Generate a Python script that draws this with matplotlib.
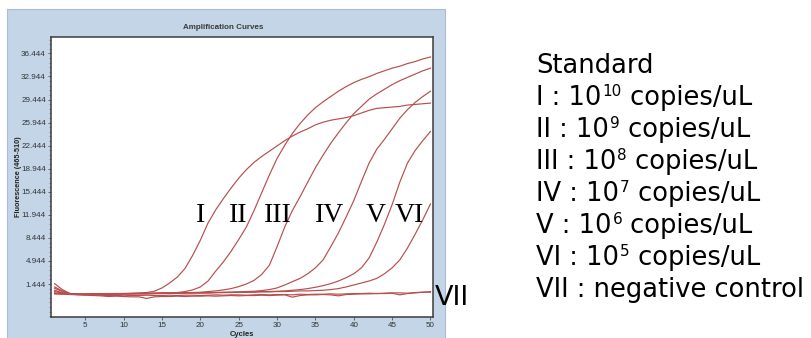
import matplotlib
matplotlib.use("Agg")
import matplotlib.pyplot as plt
from matplotlib.patches import Rectangle
from matplotlib.ticker import MultipleLocator, FixedLocator, AutoMinorLocator

cycles = list(range(1, 51))

std_I = [1.5, 0.6, 0.0, -0.05, -0.1, -0.05, 0.0, -0.05, 0.0, 0.0,
         0.05, 0.1, 0.15, 0.35, 0.85, 1.6, 2.5, 3.8, 5.8, 8.1,
         10.7, 12.7, 14.4, 16.0, 17.5, 18.8, 19.9, 20.8, 21.6, 22.4,
         23.2, 23.9, 24.5, 25.0, 25.6, 26.0, 26.3, 26.5, 26.7, 27.0,
         27.4, 27.8, 28.1, 28.2, 28.3, 28.4, 28.6, 28.7, 28.8, 28.9]
std_II = [0.8, 0.3, 0.0, -0.1, -0.1, -0.05, -0.05, 0.0, 0.0, -0.05,
          0.0, 0.0, 0.05, 0.05, 0.1, 0.1, 0.15, 0.3, 0.55, 1.0,
          1.9, 3.4, 4.8, 6.4, 8.2, 10.1, 12.6, 15.3, 18.0, 20.5,
          22.5, 24.3, 25.8, 27.1, 28.2, 29.1, 29.9, 30.7, 31.4, 32.0,
          32.5, 32.9, 33.4, 33.8, 34.2, 34.5, 34.9, 35.2, 35.6, 35.9]
std_III = [0.3, 0.1, -0.05, -0.1, -0.1, -0.1, -0.05, -0.05, 0.0, 0.0,
           -0.05, 0.0, 0.0, 0.05, 0.05, 0.1, 0.1, 0.1, 0.15, 0.2,
           0.3, 0.4, 0.55, 0.75, 1.05, 1.45, 2.0, 2.9, 4.3, 7.1,
           10.1, 12.6, 14.7, 16.9, 19.1, 21.0, 22.8, 24.4, 25.9, 27.3,
           28.4, 29.5, 30.3, 31.0, 31.7, 32.3, 32.8, 33.3, 33.8, 34.2]
std_IV = [0.1, 0.0, -0.1, -0.1, -0.15, -0.1, -0.1, -0.1, -0.05, -0.05,
          0.0, 0.0, -0.05, 0.0, 0.0, 0.05, 0.05, 0.1, 0.1, 0.1,
          0.15, 0.15, 0.2, 0.2, 0.25, 0.3, 0.35, 0.45, 0.6, 0.85,
          1.3, 1.8, 2.3, 3.0, 3.9, 5.1, 7.1, 9.2, 11.6, 14.1,
          17.0, 19.8, 21.9, 23.4, 25.0, 26.6, 27.9, 29.0, 29.9, 30.7]
std_V = [0.0, -0.05, -0.1, -0.15, -0.1, -0.15, -0.1, -0.1, -0.1, -0.05,
         -0.05, 0.0, 0.0, 0.0, 0.05, 0.05, 0.05, 0.1, 0.1, 0.1,
         0.1, 0.15, 0.15, 0.2, 0.2, 0.2, 0.25, 0.3, 0.3, 0.35,
         0.4, 0.5, 0.6, 0.75, 0.95, 1.2, 1.5, 1.9, 2.4, 3.0,
         3.9, 5.4, 7.8, 10.5, 13.5, 16.9, 19.8, 21.7, 23.2, 24.6]
std_VI = [1.0, 0.4, 0.0, -0.1, -0.1, -0.05, -0.1, -0.05, -0.05, 0.0,
          0.0, -0.05, 0.0, 0.0, 0.05, 0.05, 0.05, 0.1, 0.1, 0.1,
          0.1, 0.15, 0.15, 0.15, 0.2, 0.2, 0.2, 0.25, 0.25, 0.3,
          0.3, 0.35, 0.4, 0.4, 0.45, 0.5, 0.6, 0.75, 1.0, 1.3,
          1.6, 1.9, 2.3, 3.0, 3.9, 5.1, 6.9, 9.0, 11.2, 13.6]
neg_a = [0.5, 0.1, -0.15, -0.2, -0.25, -0.3, -0.35, -0.45, -0.4, -0.45,
         -0.5, -0.5, -0.75, -0.5, -0.45, -0.45, -0.4, -0.45, -0.4, -0.4,
         -0.35, -0.4, -0.35, -0.3, -0.35, -0.3, -0.3, -0.25, -0.3, -0.25,
         -0.2, -0.55, -0.3, -0.2, -0.2, -0.15, -0.2, -0.35, -0.15, -0.1,
         -0.05, -0.05, 0.0, 0.0, 0.05, -0.2, 0.0, 0.1, 0.2, 0.3]
neg_b = [-0.05, -0.1, -0.1, -0.15, -0.2, -0.15, -0.25, -0.3, -0.3, -0.25,
         -0.3, -0.3, -0.25, -0.3, -0.3, -0.25, -0.3, -0.25, -0.25, -0.3,
         -0.25, -0.2, -0.25, -0.2, -0.2, -0.25, -0.2, -0.15, -0.2, -0.15,
         -0.15, -0.2, -0.1, -0.15, -0.1, -0.1, -0.05, -0.1, -0.05, 0.0,
         0.0, 0.05, 0.0, 0.05, 0.1, 0.1, 0.05, 0.15, 0.2, 0.2]

curves = [std_I, std_II, std_III, std_IV, std_V, std_VI, neg_a, neg_b]

curve_labels = ["I", "II", "III", "IV", "V", "VI"]
label_cycles = [20.0, 25.0, 30.1, 36.8, 42.8, 47.3]

yticks = [1.444, 4.944, 8.444, 11.944, 15.444, 18.944, 22.444,
          25.944, 29.444, 32.944, 36.444]

# legend rows: (before exponent, exponent, after exponent)
legend_rows = [
    ("Standard", "", ""),
    ("I : 10", "10", " copies/uL"),
    ("II : 10", "9", " copies/uL"),
    ("III : 10", "8", " copies/uL"),
    ("IV : 10", "7", " copies/uL"),
    ("V : 10", "6", " copies/uL"),
    ("VI : 10", "5", " copies/uL"),
    ("VII : negative control", "", ""),
]

W, H = 811, 338
fig = plt.figure(figsize=(W / 100, H / 100), dpi=100)


def fx(x):
    return x / W


def fy(y):
    return 1 - y / H


# light blue window behind the plot
fig.patches.append(Rectangle((fx(7), 0), fx(445) - fx(7), fy(9),
                             transform=fig.transFigure, facecolor="#c3d5e7",
                             edgecolor="#a8bdd2", linewidth=0.8, zorder=-5))

ax = fig.add_axes([fx(51), fy(317), fx(433) - fx(51), fy(37) - fy(317)])
ax.set_zorder(2)
ax.set_facecolor("white")

for vals in curves:
    ax.plot(cycles, vals, color="#b84d4e", linewidth=0.85)

ax.set_xlim(0.53, 50.33)
ax.set_ylim(-3.56, 38.93)
ax.xaxis.set_major_locator(MultipleLocator(5))
ax.yaxis.set_major_locator(FixedLocator(yticks))
ax.yaxis.set_minor_locator(AutoMinorLocator(5))
ax.set_yticklabels(["%.3f" % t for t in yticks])

for sp in ax.spines.values():
    sp.set_color("#3c3c3c")
    sp.set_linewidth(1.1)

ax.tick_params(axis="both", which="major", length=2.5, width=0.6,
               color="#555555", labelsize=5.8, pad=1.2, labelcolor="#333333")
ax.tick_params(axis="y", which="minor", length=1.3, width=0.5, color="#777777")
for lab in ax.get_xticklabels() + ax.get_yticklabels():
    lab.set_family("Liberation Sans")

for name, c in zip(curve_labels, label_cycles):
    ax.text(c, 10.85, name, ha="center", va="baseline", fontsize=20,
            family="Liberation Serif", color="black")

fig.text(fx(223), fy(27.5), "Amplification Curves", ha="center", va="center",
         fontsize=5.8, fontweight="bold", color="#3a3a3a",
         family="Liberation Sans")
fig.text(fx(19), fy(177), "Fluorescence (465-510)", ha="center", va="center",
         rotation=90, fontsize=5.2, fontweight="bold", color="#222222",
         family="Liberation Sans")
fig.text(fx(241.5), fy(334), "Cycles", ha="center", va="center",
         fontsize=5.5, fontweight="bold", color="#222222",
         family="Liberation Sans")

fig.text(fx(435), fy(305), "VII", ha="left", va="baseline", fontsize=19.5,
         family="DejaVu Sans", color="black")

# legend text, exponents drawn as smaller raised text
renderer = fig.canvas.get_renderer()
for i, (head, sup, tail) in enumerate(legend_rows):
    base = 73 + 32 * i
    t = fig.text(fx(536), fy(base), head, ha="left", va="baseline",
                 fontsize=18.5, family="DejaVu Sans", color="black")
    if not sup:
        continue
    x = t.get_window_extent(renderer).x1 + 1
    s = fig.text(x / W, fy(base - 9), sup, ha="left", va="baseline",
                 fontsize=11, family="DejaVu Sans", color="black")
    x = s.get_window_extent(renderer).x1
    fig.text(x / W, fy(base), tail, ha="left", va="baseline",
             fontsize=18.5, family="DejaVu Sans", color="black")

fig.savefig("out.png", dpi=100)
